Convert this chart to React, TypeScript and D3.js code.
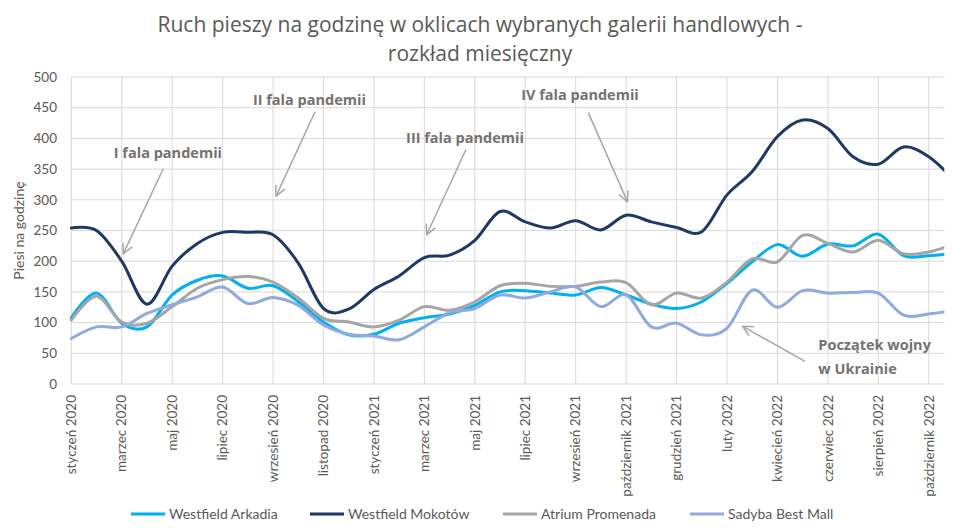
import { useEffect, useRef } from "react";
import * as d3 from "d3";

// month labels (every second one is shown on the axis)
const months = [
  "styczeń 2020", "luty 2020", "marzec 2020", "kwiecień 2020", "maj 2020", "czerwiec 2020",
  "lipiec 2020", "sierpień 2020", "wrzesień 2020", "październik 2020", "listopad 2020", "grudzień 2020",
  "styczeń 2021", "luty 2021", "marzec 2021", "kwiecień 2021", "maj 2021", "czerwiec 2021",
  "lipiec 2021", "sierpień 2021", "wrzesień 2021", "wrzesień 2021 ", "październik 2021", "listopad 2021",
  "grudzień 2021", "styczeń 2022", "luty 2022", "marzec 2022", "kwiecień 2022", "maj 2022",
  "czerwiec 2022", "lipiec 2022", "sierpień 2022", "wrzesień 2022", "październik 2022", "listopad 2022",
];

const arkadia = [
  108, 148, 99, 93, 145, 169, 176, 156, 160, 134, 101, 80,
  81, 99, 108, 114, 128, 150, 152, 148, 145, 157, 145, 130,
  123, 134, 164, 199, 227, 208, 228, 225, 244, 209, 209, 213,
];
const mokotow = [
  254, 250, 200, 130, 192, 229, 247, 247, 243, 197, 123, 122,
  154, 176, 206, 210, 234, 281, 264, 254, 266, 251, 275, 264,
  255, 248, 308, 346, 403, 430, 416, 370, 358, 386, 370, 332,
];
const atrium = [
  104, 143, 101, 99, 126, 156, 170, 175, 166, 140, 107, 101,
  93, 104, 126, 120, 134, 160, 164, 159, 159, 166, 165, 129,
  148, 140, 166, 204, 199, 242, 229, 215, 234, 212, 215, 228,
];
const sadyba = [
  74, 93, 93, 115, 129, 142, 158, 131, 141, 128, 96, 81,
  78, 72, 93, 116, 123, 145, 140, 150, 158, 126, 145, 93,
  99, 80, 91, 153, 125, 152, 148, 149, 148, 112, 114, 120,
];

const seriesNames = ["Westfield Arkadia", "Westfield Mokotów", "Atrium Promenada", "Sadyba Best Mall"];
const seriesColors = ["#00b0f0", "#1f3864", "#a5a5a5", "#8faadc"];
const seriesValues = [arkadia, mokotow, atrium, sadyba];

const yTicks = [0, 50, 100, 150, 200, 250, 300, 350, 400, 450, 500];

// annotations in data coordinates: [month index, value]
const notes = [
  { lines: ["I fala pandemii"], at: [3.83, 376], anchor: "middle", from: [3.65, 351], to: [2.06, 212] },
  { lines: ["II fala pandemii"], at: [9.44, 462], anchor: "middle", from: [9.66, 443], to: [8.12, 306] },
  { lines: ["III fala pandemii"], at: [15.61, 401], anchor: "middle", from: [15.65, 382], to: [14.09, 243] },
  { lines: ["IV fala pandemii"], at: [20.17, 470], anchor: "middle", from: [20.5, 442], to: [22.05, 297] },
  { lines: ["Początek wojny", "w Ukrainie"], at: [29.62, 63], anchor: "start", from: [29.09, 37], to: [26.62, 94] },
];

const legendX = [131, 310, 503, 690];

const W = 961;
const H = 528;
const FONT = "Lato, 'Open Sans', sans-serif";
const NOTE_FONT = "'Open Sans', sans-serif";

export default function App() {
  const svgRef = useRef<SVGSVGElement | null>(null);

  useEffect(() => {
    if (!svgRef.current) return;
    const svg = d3.select(svgRef.current);
    svg.selectAll("*").remove();

    const margin = { top: 77, left: 71.3, right: 944.3, bottom: 384 };
    const step = 25.22; // one month
    const x = d3
      .scaleLinear()
      .domain([0, 34])
      .range([margin.left, margin.left + 34 * step]);
    const y = d3.scaleLinear().domain([0, 500]).range([margin.bottom, margin.top]);

    svg.append("rect").attr("width", W).attr("height", H).attr("fill", "#fff");

    // title
    const title = svg
      .append("text")
      .attr("text-anchor", "middle")
      .attr("font-family", NOTE_FONT)
      .attr("font-size", 21)
      .attr("fill", "#595959");
    title.append("tspan").attr("x", 480).attr("y", 32).text("Ruch pieszy na godzinę w oklicach wybranych galerii handlowych -");
    title.append("tspan").attr("x", 480).attr("y", 61).text("rozkład miesięczny");

    // grid
    svg
      .append("g")
      .selectAll("line")
      .data(yTicks)
      .join("line")
      .attr("x1", margin.left)
      .attr("x2", margin.right)
      .attr("y1", (d) => y(d))
      .attr("y2", (d) => y(d))
      .attr("stroke", "#d9d9d9")
      .attr("stroke-width", 1);

    const evenIdx = d3.range(0, months.length).filter((i) => i % 2 === 0 && x(i) <= margin.right);
    svg
      .append("g")
      .selectAll("line")
      .data(evenIdx)
      .join("line")
      .attr("x1", (d) => x(d))
      .attr("x2", (d) => x(d))
      .attr("y1", margin.top)
      .attr("y2", margin.bottom)
      .attr("stroke", "#d9d9d9")
      .attr("stroke-width", 1);

    // y axis labels
    svg
      .append("g")
      .selectAll("text")
      .data(yTicks)
      .join("text")
      .attr("x", 57)
      .attr("y", (d) => y(d))
      .attr("dy", "0.35em")
      .attr("text-anchor", "end")
      .attr("font-family", FONT)
      .attr("font-size", 13.5)
      .attr("fill", "#595959")
      .text((d) => d);

    svg
      .append("text")
      .attr("transform", `translate(24,${(margin.top + margin.bottom) / 2}) rotate(-90)`)
      .attr("text-anchor", "middle")
      .attr("font-family", FONT)
      .attr("font-size", 14)
      .attr("fill", "#595959")
      .text("Piesi na godzinę");

    // x axis labels
    svg
      .append("g")
      .selectAll("text")
      .data(evenIdx)
      .join("text")
      .attr("transform", (d) => `translate(${x(d)},395) rotate(-90)`)
      .attr("dy", "0.35em")
      .attr("text-anchor", "end")
      .attr("font-family", FONT)
      .attr("font-size", 13.5)
      .attr("fill", "#595959")
      .text((d) => months[d]);

    // lines (the last month is cut off by the plot edge, as in the source)
    svg
      .append("clipPath")
      .attr("id", "plot-clip")
      .append("rect")
      .attr("x", margin.left - 2)
      .attr("y", 0)
      .attr("width", margin.right - margin.left + 2)
      .attr("height", H);

    const line = d3
      .line<number>()
      .x((_, i) => x(i))
      .y((d) => y(d))
      .curve(d3.curveCardinal.tension(0));

    svg
      .append("g")
      .attr("clip-path", "url(#plot-clip)")
      .selectAll("path")
      .data(seriesValues)
      .join("path")
      .attr("d", (d) => line(d))
      .attr("fill", "none")
      .attr("stroke", (_, i) => seriesColors[i])
      .attr("stroke-width", 3)
      .attr("stroke-linejoin", "round")
      .attr("stroke-linecap", "round");

    // annotations
    svg
      .append("defs")
      .append("marker")
      .attr("id", "arrow-head")
      .attr("viewBox", "0 0 12 12")
      .attr("refX", 11)
      .attr("refY", 6)
      .attr("markerWidth", 12)
      .attr("markerHeight", 12)
      .attr("markerUnits", "userSpaceOnUse")
      .attr("orient", "auto")
      .append("path")
      .attr("d", "M1,1 L11,6 L1,11")
      .attr("fill", "none")
      .attr("stroke", "#a6a6a6")
      .attr("stroke-width", 1.5);

    const ann = svg.append("g");
    notes.forEach((n) => {
      ann
        .append("line")
        .attr("x1", x(n.from[0]))
        .attr("y1", y(n.from[1]))
        .attr("x2", x(n.to[0]))
        .attr("y2", y(n.to[1]))
        .attr("stroke", "#a6a6a6")
        .attr("stroke-width", 1.5)
        .attr("marker-end", "url(#arrow-head)");
      const t = ann
        .append("text")
        .attr("text-anchor", n.anchor)
        .attr("font-family", NOTE_FONT)
        .attr("font-size", 14.5)
        .attr("font-weight", "bold")
        .attr("fill", "#767171");
      n.lines.forEach((s, k) => {
        t.append("tspan")
          .attr("x", x(n.at[0]))
          .attr("y", y(n.at[1]) + k * 23.3)
          .attr("dy", "0.35em")
          .text(s);
      });
    });

    // legend
    const leg = svg
      .append("g")
      .selectAll("g")
      .data(seriesNames)
      .join("g")
      .attr("transform", (_, i) => `translate(${legendX[i]},514)`);
    leg
      .append("line")
      .attr("x1", 0)
      .attr("x2", 34)
      .attr("stroke", (_, i) => seriesColors[i])
      .attr("stroke-width", 3);
    leg
      .append("text")
      .attr("x", 38)
      .attr("dy", "0.35em")
      .attr("font-family", FONT)
      .attr("font-size", 14)
      .attr("fill", "#595959")
      .text((d) => d);
  }, []);

  return (
    <svg
      ref={svgRef}
      width={W}
      height={H}
      style={{ position: "absolute", left: 0, top: 0, display: "block" }}
    />
  );
}
